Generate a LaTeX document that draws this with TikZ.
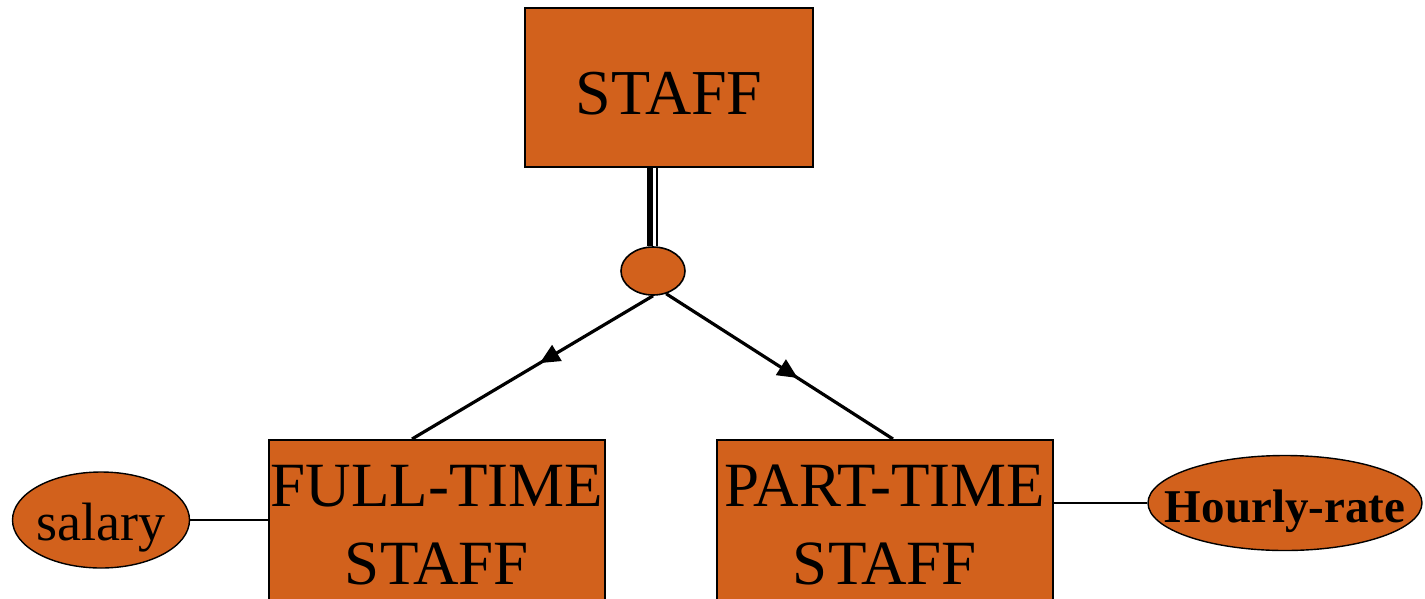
\documentclass[tikz,border=0pt]{standalone}
\usepackage{fontspec}
\setmainfont{Liberation Serif}
\usetikzlibrary{decorations.markings,arrows.meta,shapes.geometric}
\definecolor{entfill}{RGB}{210,97,28}
\begin{document}
\begin{tikzpicture}[x=1pt,y=-1pt,
  entbox/.style={draw=black,line width=1.6pt,fill=entfill,inner sep=0pt},
  attr/.style={ellipse,draw=black,line width=1.4pt,fill=entfill,inner sep=0pt},
  link/.style={line width=1.4pt},
  branch/.style={line width=3.2pt,postaction={decorate},
    decoration={markings,mark=at position #1 with {\arrow{Triangle[length=20pt,width=18pt]}}}}]
\useasboundingbox (0,0) rectangle (1425,598);
\clip (0,0) rectangle (1425,598);
% superclass
\node[entbox,minimum width=288,minimum height=159] (staff) at (669,87.5) {};
\node[font=\fontsize{64}{70}\selectfont,anchor=base] (stafft) at (669,114) {STAFF};
% disjointness circle
\node[ellipse,draw=black,line width=1.6pt,fill=entfill,minimum width=64,minimum height=48,inner sep=0pt] (d) at (653,271) {};
% subclasses
\node[entbox,minimum width=336,minimum height=220,anchor=north] (ft) at (437,439) {};
\node[entbox,minimum width=336,minimum height=220,anchor=north] (pt) at (885,439) {};
\node[font=\fontsize{63}{78}\selectfont,align=center,anchor=base] (ftt) at (437,584) {FULL-TIME\\STAFF};
\node[font=\fontsize{63}{78}\selectfont,align=center,anchor=base] (ptt) at (885,584) {PART-TIME\\STAFF};
% attributes
\node[attr,minimum width=177,minimum height=96] (sal) at (101,520) {};
\node[font=\fontsize{54}{60}\selectfont,anchor=base] (salt) at (101,540) {salary};
\node[attr,minimum width=274,minimum height=95] (hr) at (1285,503) {};
\node[font=\bfseries\fontsize{47}{56}\selectfont,anchor=base] (hrt) at (1285,522) {Hourly-rate};
% total participation (double line)
\draw[line width=6pt] ([xshift=-3.5]d.north |- staff.south) -- ([xshift=-3.5]d.north);
\draw[line width=2pt] ([xshift=3.5]d.north |- staff.south) -- ([xshift=3.5]d.north);
% subclass branches with subset arrows
\draw[branch=0.47] (d.south) -- ([xshift=-25]ft.north);
\draw[branch=0.58] (d.-60) -- ([xshift=8]pt.north);
% attribute links
\draw[link] (sal.east) -- (sal.east -| ft.west);
\draw[link] (hr.west) -- (hr.west -| pt.east);
\end{tikzpicture}
\end{document}
